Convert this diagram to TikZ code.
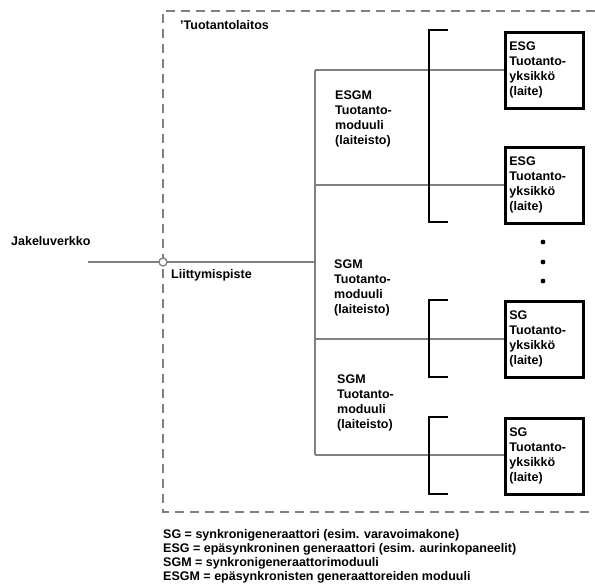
\documentclass[tikz,border=0pt]{standalone}
\usepackage{fontspec}
\setmainfont{Liberation Sans}
\usepackage{tikz}
\usetikzlibrary{positioning, calc}
\definecolor{linegray}{RGB}{128,128,128}
\tikzset{
    wire/.style={linegray, line width=1.4pt},
    frame/.style={linegray, line width=1.2pt, dash pattern=on 9pt off 6pt},
    bracket/.style={black, line width=2.8pt},
    unitbox/.style={draw=black, line width=2.8pt, fill=white, align=left,
        text width=70pt, minimum height=76pt, inner sep=4pt, anchor=north west,
        font=\bfseries\fontsize{12.5}{15}\selectfont},
    label/.style={align=left, inner sep=0pt, anchor=north west,
        font=\bfseries\fontsize{12.5}{15}\selectfont},
}
\begin{document}
\begin{tikzpicture}[x=1pt, y=-1pt]
    \useasboundingbox (0,0) rectangle (595,588);

    \coordinate (jk) at (88,262);
    \coordinate (t0) at (315,262);

    % border of the plant
    \draw[frame] (595,11) -- (163,11) -- (163,512) -- (595,512);

    % production units
    \foreach \name/\top/\kind in {
        u1/31/ESG,
        u2/146/ESG,
        u3/300/SG,
        u4/417/SG}{
        \node[unitbox] (\name) at (504,\top) {\kind\\Tuotanto-\\yksikkö\\(laite)};
    }

    % trunk and branches
    \draw[wire] (315,70) -- (315,455);
    \foreach \name/\y in {u1/70, u2/185, u3/339, u4/455}{
        \draw[wire] (315,\y) -- (\name.west |- 0,\y);
    }

    % brackets
    \foreach \a/\b in {30/222, 300/377, 417/494}{
        \draw[bracket] (448,\a) -- (429,\a) -- (429,\b) -- (448,\b);
    }

    % connection point
    \draw[wire] (jk) -- (t0);
    \node[draw=linegray, line width=1.3pt, fill=white, circle, inner sep=0pt,
        minimum size=8pt] (lp) at (163,262) {};

    % dots
    \foreach \y in {242, 262, 281}{
        \fill (543,\y) circle (2.4pt);
    }

    % texts
    \node[label, anchor=west] (jakelu) at (11,241) {Jakeluverkko};
    \node[label, anchor=west] (liitt) at (171,275) {Liittymispiste};
    \node[label, anchor=west] (laitos) at (180,25) {'Tuotantolaitos};
    \node[label] (m1) at (335,91) {ESGM\\Tuotanto-\\moduuli\\(laiteisto)};
    \node[label] (m2) at (334,260) {SGM\\Tuotanto-\\moduuli\\(laiteisto)};
    \node[label] (m3) at (337,375) {SGM\\Tuotanto-\\moduuli\\(laiteisto)};

    % legend
    \node[label, font=\bfseries\fontsize{12.5}{14}\selectfont] (legend) at (163,529) {%
        SG = synkronigeneraattori (esim. varavoimakone)\\
        ESG = epäsynkroninen generaattori (esim. aurinkopaneelit)\\
        SGM = synkronigeneraattorimoduuli\\
        ESGM = epäsynkronisten generaattoreiden moduuli};
\end{tikzpicture}
\end{document}
